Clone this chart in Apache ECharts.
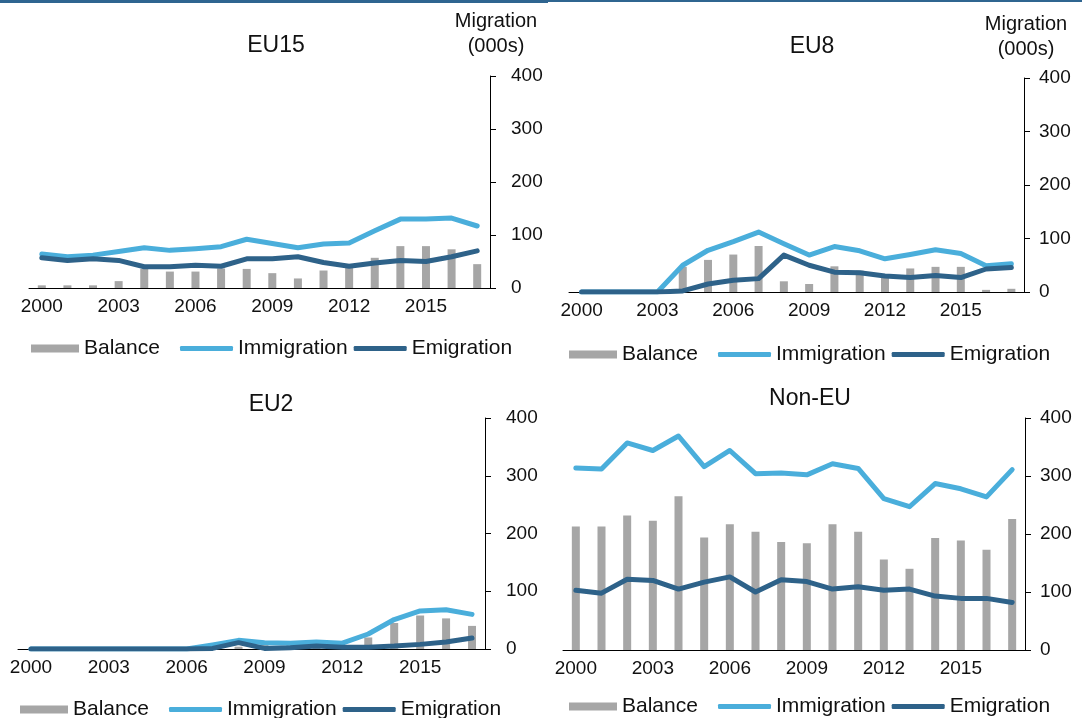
<!DOCTYPE html>
<html>
<head>
<meta charset="utf-8">
<script src="https://cdn.jsdelivr.net/npm/echarts@6/dist/echarts.min.js"></script>
<style>
html, body { margin: 0; padding: 0; background: #fff; }
#chart { width: 1082px; height: 718px; }
</style>
</head>
<body>
<div id="chart"></div>
<script>
const years = ['2000', '2001', '2002', '2003', '2004', '2005', '2006', '2007', '2008',
    '2009', '2010', '2011', '2012', '2013', '2014', '2015', '2016', '2017'];
const yTicks = [0, 100, 200, 300, 400];
const seriesNames = ['Balance', 'Immigration', 'Emigration'];

const eu15Balance = [5, 5, 5, 13, 36, 31, 31, 37, 36, 28, 18, 33, 44, 57, 79, 79, 73, 45];
const eu15Immigration = [64, 59, 62, 69, 76, 71, 74, 78, 92, 84, 76, 83, 85, 108, 130, 130, 132, 117];
const eu15Emigration = [57, 52, 55, 52, 40, 40, 43, 41, 55, 55, 59, 48, 41, 47, 52, 50, 59, 70];

const eu8Balance = [0, 0, 0, 0, 47, 60, 70, 86, 20, 15, 48, 40, 32, 44, 47, 47, 4, 6];
const eu8Immigration = [0, 0, 0, 0, 50, 78, 94, 112, 90, 69, 85, 77, 62, 70, 79, 72, 49, 53];
const eu8Emigration = [0, 0, 0, 0, 2, 15, 22, 25, 69, 50, 37, 36, 30, 27, 31, 27, 43, 46];

const eu2Balance = [0, 0, 0, 0, 0, 0, 0, 6, 4, 10, 8, 7, 7, 20, 45, 58, 53, 40];
const eu2Immigration = [0, 0, 0, 0, 0, 0, 0, 7, 15, 11, 10, 12, 10, 26, 51, 66, 68, 60];
const eu2Emigration = [0, 0, 0, 0, 0, 0, 0, 1, 11, 1, 2, 5, 3, 3, 5, 8, 12, 19];

const nonEuBalance = [213, 213, 232, 223, 265, 194, 217, 204, 186, 184, 217, 204, 156, 140, 193, 189, 173, 226];
const nonEuImmigration = [314, 312, 357, 344, 369, 316, 344, 304, 305, 302, 321, 313, 261, 247, 287, 278, 264, 311];
const nonEuEmigration = [103, 98, 122, 120, 105, 117, 126, 100, 121, 118, 105, 109, 103, 105, 93, 89, 89, 82];

const font = '"Liberation Sans", Arial, sans-serif';
const textColor = '#111';
const balanceColor = '#a6a6a6';
const immColor = '#4aaedb';
const emiColor = '#2e6289';

const panels = [
    { title: 'EU15', tx: 271, ty: 29, grid: { left: 29, top: 76, width: 461, height: 212 },
      legend: { left: 26, top: 333 }, unit: { left: 491, top: 4 }, labelMargin: 21,
      data: [eu15Balance, eu15Immigration, eu15Emigration] },
    { title: 'EU8', tx: 807, ty: 30, grid: { left: 569, top: 78, width: 455, height: 214 },
      legend: { left: 564, top: 339 }, unit: { left: 1021, top: 7 }, labelMargin: 15,
      data: [eu8Balance, eu8Immigration, eu8Emigration] },
    { title: 'EU2', tx: 266, ty: 388, grid: { left: 18, top: 418, width: 467, height: 231 },
      legend: { left: 15, top: 694 }, labelMargin: 21,
      data: [eu2Balance, eu2Immigration, eu2Emigration] },
    { title: 'Non-EU', tx: 805, ty: 382, grid: { left: 563, top: 418, width: 462, height: 232 },
      legend: { left: 564, top: 691 }, labelMargin: 15,
      data: [nonEuBalance, nonEuImmigration, nonEuEmigration] }
];

const title = [];
const grid = [];
const xAxis = [];
const yAxis = [];
const legend = [];
const series = [];

panels.forEach((p, i) => {
    title.push({
        text: p.title, left: p.tx, top: p.ty, textAlign: 'center',
        textStyle: { fontFamily: font, fontSize: 23, fontWeight: 'normal', color: textColor }
    });
    if (p.unit) {
        title.push({
            text: 'Migration\n(000s)', left: p.unit.left, top: p.unit.top, textAlign: 'center',
            textStyle: { fontFamily: font, fontSize: 20, fontWeight: 'normal', color: textColor, lineHeight: 25, align: 'center' }
        });
    }
    grid.push(p.grid);
    xAxis.push({
        type: 'category', gridIndex: i, data: years, boundaryGap: true,
        axisLine: { lineStyle: { color: '#000', width: 1 } },
        axisTick: { interval: 0, length: 6, lineStyle: { color: '#000' } },
        axisLabel: { interval: 2, fontFamily: font, fontSize: 19, color: textColor, margin: 9 }
    });
    yAxis.push({
        type: 'value', gridIndex: i, position: 'right',
        min: yTicks[0], max: yTicks[yTicks.length - 1], interval: 100,
        axisLine: { show: true, lineStyle: { color: '#000', width: 1 } },
        axisTick: { show: true, length: 6, lineStyle: { color: '#000' } },
        splitLine: { show: false },
        axisLabel: { fontFamily: font, fontSize: 19, color: textColor, margin: p.labelMargin }
    });
    // bar key and line keys need different icon heights, so two legends per panel
    legend.push({
        left: p.legend.left, top: p.legend.top, itemWidth: 48, itemHeight: 8,
        data: [{ name: 'Balance', icon: 'rect' }],
        textStyle: { fontFamily: font, fontSize: 21, color: textColor },
        selectedMode: false
    });
    legend.push({
        left: p.legend.left + 149, top: p.legend.top, itemWidth: 53, itemHeight: 5, itemGap: 6,
        icon: 'roundRect',
        data: ['Immigration', 'Emigration'],
        textStyle: { fontFamily: font, fontSize: 21, color: textColor },
        selectedMode: false
    });
    series.push({
        name: seriesNames[0], type: 'bar', xAxisIndex: i, yAxisIndex: i,
        data: p.data[0], barWidth: 8, itemStyle: { color: balanceColor }, animation: false
    });
    series.push({
        name: seriesNames[1], type: 'line', xAxisIndex: i, yAxisIndex: i,
        data: p.data[1], symbol: 'none', animation: false,
        lineStyle: { color: immColor, width: 5, cap: 'round', join: 'round' },
        itemStyle: { color: immColor }
    });
    series.push({
        name: seriesNames[2], type: 'line', xAxisIndex: i, yAxisIndex: i,
        data: p.data[2], symbol: 'none', animation: false,
        lineStyle: { color: emiColor, width: 5, cap: 'round', join: 'round' },
        itemStyle: { color: emiColor }
    });
});

const chart = echarts.init(document.getElementById('chart'));
chart.setOption({
    backgroundColor: '#fff',
    animation: false,
    title: title,
    grid: grid,
    xAxis: xAxis,
    yAxis: yAxis,
    legend: legend,
    series: series,
    graphic: [
        { type: 'rect', shape: { x: 0, y: 0, width: 548, height: 3 }, style: { fill: '#2f6590' } },
        { type: 'rect', shape: { x: 548, y: 0, width: 534, height: 2 }, style: { fill: '#2f6590' } }
    ]
});
</script>
</body>
</html>
